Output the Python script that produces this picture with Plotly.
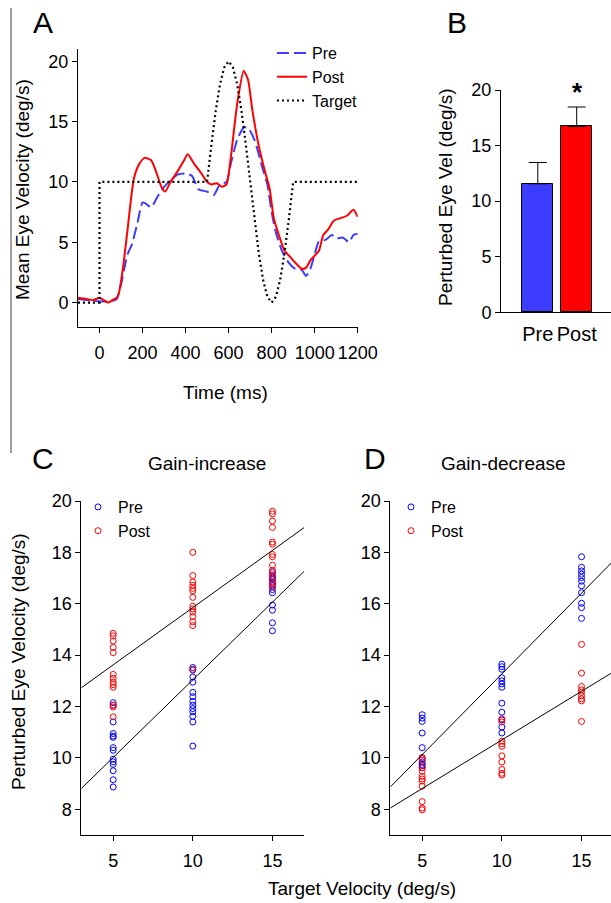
import plotly.graph_objects as go

W, H = 611, 903
FONT = "Liberation Sans, Arial, sans-serif"
BLUE = "#0000ff"
RED = "#ff0000"
BLUE_A = "#3c3cff"

# ---------------- Panel A: mean eye velocity traces ----------------
pre_t = [-100, -50, 0, 50, 80, 100, 130, 150, 175, 200, 215, 240, 270, 300, 330, 360, 400, 430,
         460, 500, 530, 560, 590, 610, 640, 670, 690, 720, 760, 780, 800, 820, 850, 880, 910,
         940, 960, 980, 1000, 1020, 1050, 1080, 1100, 1130, 1160, 1180, 1200]
pre_v = [0.3, 0.2, 0.1, 0.1, 0.3, 1.5, 4.0, 4.8, 6.5, 8.3, 8.2, 7.9, 8.8, 9.6, 10.1, 10.6, 10.7, 10.5,
         9.4, 9.2, 8.9, 9.8, 10.0, 11.5, 13.5, 14.5, 14.5, 13.5, 11.0, 9.8, 7.5, 5.8, 4.2, 3.3, 2.8,
         2.7, 2.2, 2.8, 4.0, 5.1, 5.2, 5.6, 5.3, 5.4, 5.0, 5.6, 5.7]
post_t = [-100, -60, -30, 0, 20, 40, 60, 80, 90, 110, 130, 160, 185, 210, 240, 260, 290, 305, 330,
          360, 390, 410, 440, 470, 500, 520, 545, 570, 590, 610, 640, 670, 690, 710, 740, 770, 790,
          810, 830, 860, 880, 910, 940, 960, 980, 1000, 1020, 1040, 1060, 1090, 1120, 1150, 1180, 1200]
post_v = [0.4, 0.3, 0.2, 0.4, 0.2, 0.0, 0.2, 0.4, 0.8, 3.0, 6.0, 10.3, 11.5, 12.0, 11.8, 11.0, 9.5, 9.2, 10.0,
          10.8, 11.7, 12.3, 11.5, 10.8, 10.0, 9.8, 9.9, 9.6, 9.8, 12.0, 16.5, 19.2, 18.5, 16.0, 13.0, 10.8, 9.5,
          7.0, 5.8, 4.3, 3.9, 3.3, 2.8, 2.9, 3.5, 3.9, 4.3, 5.6, 6.0, 6.8, 7.0, 7.2, 7.7, 7.1]
target_t = [-100, 0, 0, 500, 520, 540, 560, 580, 600, 620, 640, 660, 680, 700, 720, 740, 760, 780,
            800, 820, 840, 860, 880, 900, 1200]
target_v = [0, 0, 10, 10, 13.09, 15.88, 18.09, 19.51, 20, 19.51, 18.09, 15.88, 13.09, 10, 6.91, 4.12,
            1.91, 0.49, 0, 0.49, 1.91, 4.12, 6.91, 10, 10]
a_xticks = [0, 200, 400, 600, 800, 1000, 1200]
a_yticks = [0, 5, 10, 15, 20]

# ---------------- Panel B: bar chart ----------------
bar_labels = ["Pre", "Post"]
bar_means = [11.56, 16.72]
bar_err = [1.92, 1.75]
b_yticks = [0, 5, 10, 15, 20]

# ---------------- Panel C: gain-increase ----------------
target_vel = [5, 10, 15]
c_pre_5 = [12.15, 12.05, 11.4, 10.95, 10.85, 10.8, 10.4, 10.3, 9.95, 9.85, 9.75, 9.5, 9.15, 8.87]
c_pre_10 = [13.52, 13.42, 13.15, 12.95, 12.55, 12.38, 12.2, 12.05, 11.92, 11.8, 11.62, 11.4, 10.46]
c_pre_15 = [17.25, 17.1, 17.0, 16.95, 16.8, 16.7, 16.55, 16.43, 15.95, 15.75, 15.26, 14.95]
c_post_5 = [14.85, 14.75, 14.55, 14.3, 14.1, 13.25, 13.1, 12.95, 12.85, 12.75, 12.05, 11.98, 11.6]
c_post_10 = [18.0, 17.1, 16.85, 16.72, 16.6, 16.5, 16.25, 15.9, 15.8, 15.68, 15.5, 15.3, 15.15, 13.45]
c_post_15 = [19.6, 19.5, 19.22, 18.97, 18.4, 18.32, 17.92, 17.83, 17.5, 17.3, 17.18, 17.05, 16.85, 16.75, 16.65]
fit_x = [3, 17]
c_pre_fit = [8.81, 17.27]
c_post_fit = [12.73, 18.97]

# ---------------- Panel D: gain-decrease ----------------
d_pre_5 = [11.68, 11.55, 11.42, 10.97, 10.4, 9.98, 9.85, 9.75, 9.7, 9.62]
d_pre_10 = [13.65, 13.55, 13.45, 13.12, 13.0, 12.88, 12.75, 12.13, 11.78, 11.48, 11.2, 10.97]
d_pre_15 = [17.83, 17.42, 17.28, 17.15, 17.02, 16.88, 16.7, 16.43, 16.02, 15.85, 15.43]
d_post_5 = [10.02, 9.92, 9.62, 9.48, 9.28, 9.18, 9.1, 8.9, 8.3, 8.05, 7.98]
d_post_10 = [11.52, 11.4, 10.65, 10.55, 10.45, 10.08, 9.84, 9.55, 9.4, 9.33]
d_post_15 = [14.42, 13.3, 12.78, 12.65, 12.55, 12.42, 12.3, 12.22, 11.42]
d_pre_fit = [8.87, 17.67]
d_post_fit = [8.05, 13.35]
cd_xticks = [5, 10, 15]
cd_yticks = [8, 10, 12, 14, 16, 18, 20]


def px(x):
    return x / W


def py(y):
    return 1 - y / H


def cols(groups):
    xs, ys = [], []
    for v, g in zip(target_vel, groups):
        xs += [v] * len(g)
        ys += g
    return xs, ys


fig = go.Figure()

# Panel A traces
fig.add_trace(go.Scatter(x=pre_t, y=pre_v, mode="lines", name="Pre", line=dict(color=BLUE_A, width=2, dash="12px,5px", shape="spline", smoothing=0.6),
                         xaxis="x", yaxis="y", legend="legend"))
fig.add_trace(go.Scatter(x=post_t, y=post_v, mode="lines", name="Post", line=dict(color=RED, width=2, shape="spline", smoothing=0.6),
                         xaxis="x", yaxis="y", legend="legend"))
fig.add_trace(go.Scatter(x=target_t, y=target_v, mode="lines", name="Target", line=dict(color="black", width=2.2, dash="2px,3px"),
                         xaxis="x", yaxis="y", legend="legend"))

# Panel B bars
fig.add_trace(go.Bar(x=[0, 1], y=bar_means, width=0.8, marker=dict(color=[BLUE_A, RED], line=dict(color="black", width=1)),
                     error_y=dict(type="data", array=bar_err, arrayminus=[0, 0], symmetric=False, color="black", thickness=1, width=9),
                     xaxis="x2", yaxis="y2", showlegend=False))

mk = dict(symbol="circle-open", size=6, line=dict(width=1))

# Panel C
x, y = cols([c_pre_5, c_pre_10, c_pre_15])
fig.add_trace(go.Scatter(x=x, y=y, mode="markers", name="Pre", marker=dict(color=BLUE, **mk), xaxis="x3", yaxis="y3", legend="legend2"))
x, y = cols([c_post_5, c_post_10, c_post_15])
fig.add_trace(go.Scatter(x=x, y=y, mode="markers", name="Post", marker=dict(color=RED, **mk), xaxis="x3", yaxis="y3", legend="legend2"))
for fy in (c_pre_fit, c_post_fit):
    fig.add_trace(go.Scatter(x=fit_x, y=fy, mode="lines", line=dict(color="black", width=1), xaxis="x3", yaxis="y3", showlegend=False))

# Panel D
x, y = cols([d_pre_5, d_pre_10, d_pre_15])
fig.add_trace(go.Scatter(x=x, y=y, mode="markers", name="Pre", marker=dict(color=BLUE, **mk), xaxis="x4", yaxis="y4", legend="legend3"))
x, y = cols([d_post_5, d_post_10, d_post_15])
fig.add_trace(go.Scatter(x=x, y=y, mode="markers", name="Post", marker=dict(color=RED, **mk), xaxis="x4", yaxis="y4", legend="legend3"))
for fy in (d_pre_fit, d_post_fit):
    fig.add_trace(go.Scatter(x=fit_x, y=fy, mode="lines", line=dict(color="black", width=1), xaxis="x4", yaxis="y4", showlegend=False))


def ax(**kw):
    d = dict(showline=True, linecolor="black", linewidth=1, ticks="outside", ticklen=5, tickcolor="black",
             tickwidth=1, showgrid=False, zeroline=False, tickfont=dict(size=18, color="black", family=FONT),
             fixedrange=True, tickangle=0, automargin=False)
    d.update(kw)
    return d


legend_common = dict(bgcolor="rgba(0,0,0,0)", borderwidth=0, font=dict(size=16, family=FONT, color="black"),
                     xanchor="left", yanchor="top", tracegroupgap=0)

fig.update_layout(
    width=W, height=H, margin=dict(l=0, r=0, t=0, b=0, pad=0, autoexpand=False), autosize=False,
    paper_bgcolor="white", plot_bgcolor="white",
    font=dict(family=FONT, color="black"),
    xaxis=ax(domain=[px(78), px(357.7)], range=[-100, 1200], tickvals=a_xticks, anchor="y", ticklabelstandoff=5),
    yaxis=ax(domain=[py(326.7), py(49.3)], range=[-2, 21], tickvals=a_yticks, anchor="x"),
    xaxis2=ax(domain=[px(501), 1.0], range=[-0.946, 1.882], tickvals=[0, 1], ticktext=bar_labels, ticks="",
              tickfont=dict(size=20, color="black", family=FONT), anchor="y2", ticklabelstandoff=4),
    yaxis2=ax(domain=[py(312.3), py(90)], range=[0, 20], tickvals=b_yticks, anchor="x2"),
    xaxis3=ax(domain=[px(81.3), px(304.3)], range=[3, 17], tickvals=cd_xticks, anchor="y3", ticklabelstandoff=4),
    yaxis3=ax(domain=[py(835), py(501)], range=[7, 20], tickvals=cd_yticks, anchor="x3"),
    xaxis4=ax(domain=[px(390.3), 1.0], range=[3, 16.85], tickvals=cd_xticks, anchor="y4", ticklabelstandoff=4),
    yaxis4=ax(domain=[py(835), py(501)], range=[7, 20], tickvals=cd_yticks, anchor="x4"),
    legend=dict(x=px(272), y=py(36), **legend_common),
    legend2=dict(x=px(78), y=py(490), **legend_common),
    legend3=dict(x=px(391), y=py(490), **legend_common),
    bargap=0,
)

ann = []


def text(x, y, s, size, angle=0, **kw):
    ann.append(dict(x=px(x), y=py(y), xref="paper", yref="paper", text=s, showarrow=False, textangle=angle,
                    xanchor="center", yanchor="middle", font=dict(size=size, family=FONT, color="black"), **kw))


text(43, 22, "A", 30)
text(457, 22, "B", 30)
text(43, 458, "C", 30)
text(375, 458, "D", 30)
text(226, 392, "Time (ms)", 19)
text(22, 190, "Mean Eye Velocity (deg/s)", 19, angle=-90)
text(445, 197, "Perturbed Eye Vel (deg/s)", 19, angle=-90)
text(577, 92, "<b>*</b>", 26)
text(207, 463, "Gain-increase", 19)
text(503, 463, "Gain-decrease", 19)
text(18, 662, "Perturbed Eye Velocity (deg/s)", 19, angle=-90)
text(362, 888, "Target Velocity (deg/s)", 19)
fig.update_layout(annotations=ann)

fig.add_shape(type="line", xref="paper", yref="paper", x0=px(11), x1=px(11), y0=py(8), y1=py(453),
              line=dict(color="#808080", width=1.5))

fig.write_html("out.html",
               post_script=("document.documentElement.style.overflow='hidden';"
                            "document.body.style.margin='0';document.body.style.overflow='hidden';"),
               config={"displayModeBar": False})
